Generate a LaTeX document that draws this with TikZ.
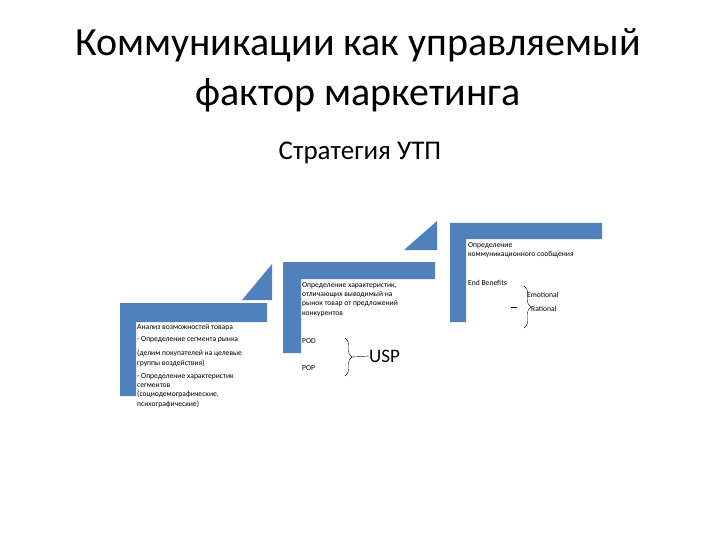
\documentclass[tikz,border=0pt]{standalone}
\usepackage{fontspec}
\setmainfont{Carlito}
\usetikzlibrary{decorations.pathreplacing}
\definecolor{bl}{HTML}{4F81BD}
\begin{document}
\begin{tikzpicture}[x=1pt,y=-1pt,
  bar/.style={fill=bl,draw=none},
  small/.style={font=\fontsize{7.6}{9.4}\selectfont,anchor=north west,align=left,inner sep=0pt},
  brc/.style={decorate,decoration={brace,amplitude=7pt},draw=black,thin}]
\useasboundingbox (0,0) rectangle (720,540);
\node (t1) at (358,45) {\fontsize{40}{44}\selectfont Коммуникации как управляемый};
\node (t2) at (358,95) {\fontsize{40}{44}\selectfont фактор маркетинга};
\node (st) at (360,153) {\fontsize{27}{30}\selectfont Стратегия УТП};
% step 1
\fill[bar] (120,303) -- (267,303) -- (267,322) -- (136,322) -- (136,396) -- (120,396) -- cycle;
\fill[bar] (242,300) -- (272,300) -- (272,264) -- cycle;
% step 2
\fill[bar] (283,262) -- (435,262) -- (435,279) -- (301,279) -- (301,353) -- (283,353) -- cycle;
\fill[bar] (404,250) -- (437,250) -- (437,221) -- cycle;
% step 3
\fill[bar] (450,223) -- (602,223) -- (602,239) -- (466,239) -- (466,322) -- (450,322) -- cycle;
% texts
\node[small] (a1) at (137,324) {Анализ возможностей товара};
\node[small] (a2) at (137,336) {- Определение сегмента рынка};
\node[small] (a3) at (137,350) {(делим покупателей на целевые\\группы воздействия)};
\node[small] (a4) at (137,373) {- Определение характеристик\\сегментов\\(социодемографические,\\психографические)};
\node[small] (b1) at (302,282) {Определение характеристик,\\отличающих выводимый на\\рынок товар от предложений\\конкурентов};
\node[small] (pod) at (302,338) {POD};
\node[small] (pop) at (302,365) {POP};
\coordinate (bt) at (345,338);
\coordinate (bb) at (345,376);
\draw[brc] (bt) -- (bb);
\coordinate (btip) at (352,357);
\node[anchor=west,inner sep=0pt,font=\fontsize{19}{22}\selectfont] (usp) at (369,356) {USP};
\draw[thin] (btip) -- (usp.west);
\coordinate (ct) at (524,328);
\coordinate (cb) at (524,286);
\node[small] (c1) at (468,242) {Определение\\коммуникационного сообщения};
\node[small] (c2) at (468,280) {End Benefits};
\draw[brc] (cb) -- (ct);
\coordinate (ctip) at (517,307);
\coordinate (ctail) at (511,307);
\draw[thin] (ctip) -- (ctail);
\node[small] (em) at (527,292) {Emotional};
\node[small] (ra) at (531,306) {Rational};
\end{tikzpicture}
\end{document}
